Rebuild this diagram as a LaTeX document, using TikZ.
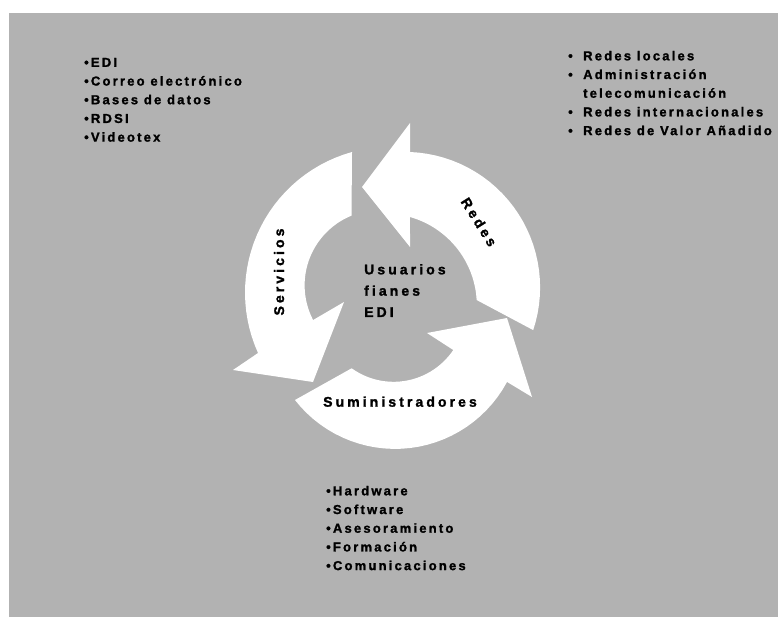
\documentclass[tikz,border=0pt]{standalone}
\usepackage{fontspec}
\usepackage{xcolor}
\usepackage{tikz}
\newfontfamily\espaciada[LetterSpace=17, BoldFeatures={FakeBold=1.5}]{Liberation Sans}
\newfontfamily\espaciadaciclo[LetterSpace=22, BoldFeatures={FakeBold=1.5}]{Liberation Sans}

\begin{document}
\begin{tikzpicture}[x=1pt,y=-1pt,
        lista/.style={anchor=north west, inner sep=0pt, align=left,
            font=\espaciada\bfseries\fontsize{13}{18.7}\selectfont},
        ciclo/.style={inner sep=0pt,
            font=\espaciadaciclo\bfseries\fontsize{14}{21.3}\selectfont},
        flecha/.style={fill=white}]
        % Define colors
        \definecolor{fondo}{RGB}{178,178,178}

        % Background
        \useasboundingbox (0,0) rectangle (778,617);
        \fill[fondo] (9,13) rectangle (778,617);

        % Draw the three arrows of the cycle
        \path[flecha] (533,330)
            -- plot[domain=18.4:-87.7, samples=30, variable=\t] ({404.6+135.5*cos(\t)}, {287.4+135.5*sin(\t)})
            -- (410,123) -- (362,187) -- (410,247)
            -- plot[domain=-74.3:-3.25, samples=30, variable=\t] ({385.2+91.6*cos(\t)}, {305.2+91.6*sin(\t)})
            -- cycle;
        \path[flecha] (352,152)
            -- plot[domain=254.5:155.6, samples=30, variable=\t] ({391+146*cos(\t)}, {292.7+146*sin(\t)})
            -- (233,370) -- (313,382) -- (344,302)
            -- plot[domain=152.5:247.9, samples=30, variable=\t] ({379.8+75.2*cos(\t)}, {285.3+75.2*sin(\t)})
            -- cycle;
        \path[flecha] (295,400)
            -- plot[domain=142:28.2, samples=30, variable=\t] ({395.1+127*cos(\t)}, {321.9+127*sin(\t)})
            -- (532,397) -- (507,318) -- (427,333)
            -- plot[domain=33.9:125.7, samples=30, variable=\t] ({393.6+71.9*cos(\t)}, {309.9+71.9*sin(\t)})
            -- cycle;

        % Add labels
        \node[ciclo, rotate=90] (servicios) at (279,272) {Servicios};
        \node[ciclo, rotate=-58] (redes) at (479,222) {Redes};
        \node[ciclo, anchor=base] (suministradores) at (400,406.7) {Suministradores};
        \node[ciclo, anchor=north west, align=left] (usuarios) at (364,264) {Usuarios\\fianes\\EDI};

        % Add lists
        \node[lista] (listaservicios) at (84,57.7) {•EDI\\•Correo electrónico\\•Bases de datos\\•RDSI\\•Videotex};
        \node[lista] (listaredes) at (568,50.7) {\makebox[15pt][l]{•}Redes locales\\
            \makebox[15pt][l]{•}Administración\\
            \hspace*{15pt}telecomunicación\\
            \makebox[15pt][l]{•}Redes internacionales\\
            \makebox[15pt][l]{•}Redes de Valor Añadido};
        \node[lista] (listasuministradores) at (326,485.7) {•Hardware\\•Software\\•Asesoramiento\\•Formación\\•Comunicaciones};

    \end{tikzpicture}
\end{document}
